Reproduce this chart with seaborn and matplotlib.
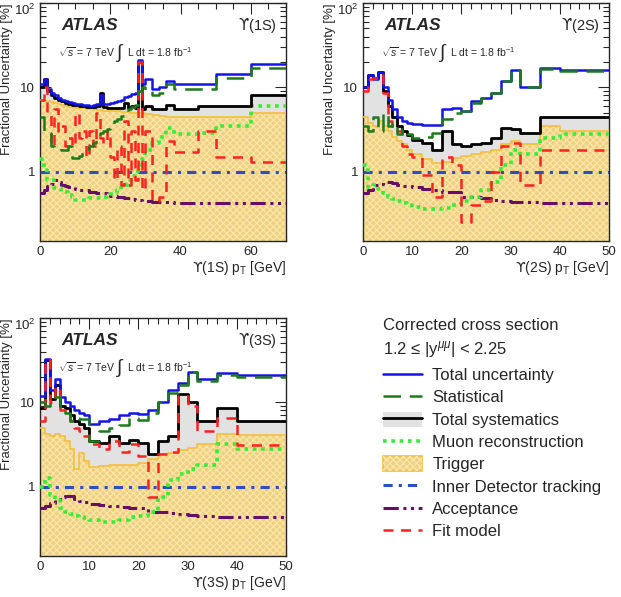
import matplotlib
matplotlib.use("Agg")
import matplotlib.pyplot as plt
import seaborn as sns
from matplotlib.patches import Patch
from matplotlib.lines import Line2D
from matplotlib.legend_handler import HandlerTuple
from matplotlib.ticker import FixedLocator, FixedFormatter, MultipleLocator, LogLocator, NullFormatter

sns.set_style("ticks")
plt.rcParams['font.family'] = ['Liberation Sans', 'DejaVu Sans']
plt.rcParams['mathtext.fontset'] = 'custom'
plt.rcParams['mathtext.rm'] = 'Liberation Sans'
plt.rcParams['mathtext.it'] = 'Liberation Sans:italic'
plt.rcParams['mathtext.sf'] = 'DejaVu Sans'
plt.rcParams['hatch.linewidth'] = 0.9

# ---- data (fractional uncertainties in %, one value per pT bin) ----
edges_1s = list(range(0, 31)) + [32, 34, 36, 38, 40, 45, 50, 60, 70]
edges_23s = [0, 1, 2, 3, 4, 5, 6, 7, 8, 9, 10, 12, 14, 16, 18, 20, 22, 24, 26, 28, 30, 32, 36, 40, 50]

total_1s = [11, 12.5, 9.5, 8.5, 8, 7.5, 7, 6.8, 6.6, 6.5,
            6.4, 6.3, 6.2, 6.1, 6.0, 6.1, 6.3, 8.0, 6.4, 6.4,
            6.5, 6.6, 6.8, 7.0, 7.6, 7.8, 8.3, 8.6, 21, 10.8,
            12.5, 9.5, 10, 12, 11, 11, 11, 14.5, 19]
stat_1s = [4.5, 2.9, 2.9, 2.0, 1.9, 1.9, 1.8, 1.8, 2.0, 1.45,
           1.45, 1.55, 1.7, 1.85, 2.0, 2.2, 2.5, 2.9, 3.0, 3.2,
           3.5, 4.0, 4.2, 4.6, 5.0, 5.5, 5.8, 6.2, 9.0, 10,
           9.0, 8.0, 8.5, 11, 9.5, 9.5, 9.5, 13, 17]
syst_1s = [10, 12.4, 9, 8, 7.5, 7, 6.8, 6.5, 6.3, 6.2,
           6.1, 6.0, 6.0, 5.9, 5.9, 5.9, 6.0, 8.5, 5.8, 5.7,
           5.7, 5.6, 5.6, 5.6, 6.5, 5.6, 6.0, 5.6, 20, 5.5,
           6.0, 5.5, 5.5, 6.2, 5.5, 5.5, 6.0, 6.0, 8.0]
muon_1s = [1.4, 1.05, 0.8, 0.8, 0.64, 0.64, 0.58, 0.58, 0.53, 0.5,
           0.46, 0.46, 0.46, 0.47, 0.48, 0.49, 0.48, 0.48, 0.5, 0.52,
           0.54, 0.56, 0.6, 0.65, 0.7, 0.8, 0.88, 0.95, 1.2, 1.4,
           1.8, 2.2, 2.6, 3.3, 2.8, 2.8, 2.9, 3.5, 6.0]
trig_1s = [7.0, 6.9, 6.8, 6.6, 6.5, 6.3, 6.1, 6.0, 5.9, 5.8,
           5.7, 5.7, 5.6, 5.6, 5.5, 5.5, 5.4, 5.4, 5.3, 5.3,
           5.2, 5.2, 5.2, 5.1, 5.1, 5.1, 5.0, 5.0, 4.9, 4.9,
           4.8, 4.7, 4.6, 4.5, 4.5, 4.5, 4.5, 4.5, 5.0]
idtrk_1s = [1.0] * 39
accept_1s = [0.56, 0.6, 0.68, 0.72, 0.8, 0.75, 0.7, 0.68, 0.66, 0.65,
             0.62, 0.6, 0.6, 0.6, 0.58, 0.57, 0.56, 0.55, 0.55, 0.54,
             0.52, 0.52, 0.5, 0.5, 0.48, 0.48, 0.47, 0.46, 0.46, 0.45,
             0.45, 0.44, 0.43, 0.43, 0.42, 0.42, 0.42, 0.42, 0.42]
fit_1s = [7, 10, 5, 2, 5.5, 3, 3.5, 2, 2.5, 2,
          5, 2.5, 3, 1.5, 3, 2, 5, 2.5, 2.2, 3,
          1.5, 0.8, 2, 0.7, 4, 0.7, 3, 0.8, 20, 0.6,
          3, 0.45, 0.5, 2.3, 1.7, 1.7, 3, 1.5, 1.3]

total_2s = [10, 14, 12.5, 15, 10, 7, 5.5, 4.5, 4.0, 3.8,
            3.7, 3.6, 3.6, 5.5, 5.7, 5.2, 6.8, 7.5, 8.5, 12,
            16, 10, 17, 16]
stat_2s = [3.5, 3.0, 4.5, 3.0, 5.0, 3.5, 3.8, 2.8, 3.2, 2.8,
           2.5, 2.6, 2.9, 4.2, 5.0, 5.2, 6.5, 7.5, 8.5, 12,
           16, 10, 16.5, 15.5]
syst_2s = [10, 14, 13, 15, 9, 6, 4.5, 3.5, 3.0, 2.7,
           2.4, 2.2, 1.8, 3.0, 2.1, 2.0, 2.1, 2.2, 2.5, 3.3,
           3.2, 2.9, 4.4, 4.5]
muon_2s = [1.2, 0.65, 0.7, 0.62, 0.55, 0.5, 0.47, 0.45, 0.42, 0.4,
           0.38, 0.36, 0.36, 0.37, 0.4, 0.45, 0.5, 0.6, 0.75, 1.2,
           1.8, 1.6, 2.5, 2.8]
trig_2s = [4.5, 3.8, 3.5, 4.0, 3.5, 3.0, 2.6, 2.3, 2.1, 1.8,
           1.6, 1.4, 1.25, 1.3, 1.45, 1.55, 1.6, 1.7, 1.8, 2.1,
           2.3, 2.1, 3.5, 3.0]
idtrk_2s = [1.0] * 24
accept_2s = [0.55, 0.6, 0.7, 0.72, 0.75, 0.75, 0.73, 0.7, 0.68, 0.68,
             0.65, 0.62, 0.6, 0.58, 0.57, 0.5, 0.5, 0.48, 0.46, 0.45,
             0.44, 0.43, 0.42, 0.42]
fit_2s = [9, 12.5, 13, 14, 8.5, 4, 3.5, 3, 2.0, 1.6,
          1.5, 0.9, 0.5, 1.5, 1.2, 0.25, 0.4, 0.45, 1.0, 2.0,
          2.2, 0.7, 1.8, 1.8]

total_3s = [12, 33, 14, 19, 11.5, 10, 9, 8, 7.5, 7,
            5.5, 6, 6.3, 7, 7.5, 7.2, 8, 10, 14, 17,
            23, 19, 22, 21]
stat_3s = [10, 9, 11, 11.5, 8.5, 7.5, 6, 6.5, 6.3, 6.3,
           3.5, 4.5, 5.0, 5.3, 6.5, 6.2, 7.5, 10, 13, 16,
           23, 18, 21, 20]
syst_3s = [8.5, 32, 11, 16, 9, 8.5, 7, 6, 5.5, 5,
           3.5, 3.3, 4.0, 3.3, 3.6, 3.3, 2.4, 3.5, 4.0, 12.5,
           10, 6, 8.5, 6]
muon_3s = [1.0, 1.25, 0.8, 0.7, 0.55, 0.5, 0.47, 0.45, 0.43, 0.42,
           0.4, 0.38, 0.38, 0.4, 0.43, 0.45, 0.5, 0.75, 1.2, 1.4,
           1.6, 1.8, 3.2, 2.8]
trig_3s = [5.0, 4.2, 4.0, 4.2, 4.0, 3.5, 2.8, 1.6, 2.5, 2.0,
           1.7, 1.75, 1.8, 1.8, 1.8, 1.9, 2.1, 2.4, 2.5, 2.7,
           2.9, 3.2, 4.2, 4.1]
idtrk_3s = [1.0] * 24
accept_3s = [0.55, 0.58, 0.63, 0.7, 0.75, 0.78, 0.77, 0.72, 0.68, 0.66,
             0.62, 0.6, 0.58, 0.57, 0.56, 0.55, 0.5, 0.5, 0.48, 0.47,
             0.46, 0.45, 0.44, 0.43]
fit_3s = [6, 32, 10, 15, 8, 7, 6, 5, 4.5, 4.0,
          3.2, 2.8, 3.5, 2.6, 3.2, 2.3, 0.75, 2.4, 2.6, 12,
          9, 4.5, 6.5, 3.1]

# ---- styles ----
c_total = '#1414e6'
c_stat = '#1c7a1c'
c_muon = '#33ee33'
c_idtrk = '#2a4fc0'
c_acc = '#660f66'
c_fit = '#ff2020'
c_trig = '#f1d07c'
c_trig_edge = '#f3c03a'
c_trig_hatch = '#f8e6ae'
c_gray = '#e2e2e2'

ls_stat = (0, (7, 3.5))
ls_muon = (0, (1, 1.3))
ls_idtrk = (0, (3, 2, 1, 2))
ls_acc = (0, (5, 1.5, 1, 1.5, 1, 1.5))
ls_fit = (0, (4, 3))

UPS = r'$\mathsf{ϒ}$'


def stairs(ax, edges, vals, **kw):
    yy = list(vals) + [vals[-1]]
    sns.lineplot(x=edges, y=yy, drawstyle='steps-post', estimator=None,
                 sort=False, legend=False, ax=ax, **kw)


def panel(ax, edges, total, stat, syst, muon, trig, idtrk, accept, fit,
          state, xmax, xmajor, xminor):
    syst_y = list(syst) + [syst[-1]]
    trig_y = list(trig) + [trig[-1]]
    ax.fill_between(edges, syst_y, 0.01, step='post', color=c_gray, lw=0, zorder=1)
    ax.fill_between(edges, trig_y, 0.01, step='post', facecolor=c_trig, lw=0, zorder=2)
    ax.fill_between(edges, trig_y, 0.01, step='post', facecolor='none',
                    edgecolor=c_trig_hatch, hatch='xxxxx', lw=0, zorder=2)
    stairs(ax, edges, trig, color=c_trig_edge, lw=1.2, zorder=3)
    stairs(ax, edges, accept, color=c_acc, lw=2.2, ls=ls_acc, zorder=4)
    stairs(ax, edges, idtrk, color=c_idtrk, lw=2.2, ls=ls_idtrk, zorder=4)
    stairs(ax, edges, muon, color=c_muon, lw=2.6, ls=ls_muon, zorder=4)
    stairs(ax, edges, fit, color=c_fit, lw=1.8, ls=ls_fit, zorder=5)
    stairs(ax, edges, syst, color='black', lw=2.0, zorder=4)
    stairs(ax, edges, total, color=c_total, lw=1.8, zorder=4)
    stairs(ax, edges, stat, color=c_stat, lw=1.8, ls=ls_stat, zorder=5)

    ax.set_yscale('log')
    ax.set_ylim(0.15, 100)
    ax.set_xlim(0, xmax)
    ax.yaxis.set_major_locator(FixedLocator([1, 10, 100]))
    ax.yaxis.set_major_formatter(FixedFormatter(['1', '10', '$10^2$']))
    ax.yaxis.set_minor_locator(LogLocator(base=10, subs=range(2, 10)))
    ax.yaxis.set_minor_formatter(NullFormatter())
    ax.xaxis.set_major_locator(MultipleLocator(xmajor))
    ax.xaxis.set_minor_locator(MultipleLocator(xminor))
    ax.tick_params(which='both', direction='in', top=True, right=True,
                   labelsize=9.5, width=0.8, pad=3.5)
    ax.tick_params(which='major', length=8)
    ax.tick_params(which='minor', length=4)
    for sp in ax.spines.values():
        sp.set_linewidth(1.0)
    ax.set_ylabel('Fractional Uncertainty [%]', fontsize=9.5, loc='top')
    ax.yaxis.set_label_coords(-0.108, 1.0)
    ax.set_xlabel(UPS + '(%s) p$_\\mathregular{T}$ [GeV]' % state, fontsize=10,
                  loc='right', labelpad=1)
    ax.text(0.085, 0.905, 'ATLAS', transform=ax.transAxes, fontsize=12.5,
            fontweight='bold', fontstyle='italic', va='center')
    ax.text(0.965, 0.905, UPS + '(%s)' % state, transform=ax.transAxes, fontsize=10.5,
            ha='right', va='center')
    ax.text(0.075, 0.795, '$\\sqrt{s}$ = 7 TeV', transform=ax.transAxes,
            fontsize=7.5, va='center')
    ax.text(0.31, 0.79, '$\\int$', transform=ax.transAxes, fontsize=14, va='center')
    ax.text(0.355, 0.795, 'L dt = 1.8 fb$^{-1}$', transform=ax.transAxes,
            fontsize=7.5, va='center')


fig = plt.figure(figsize=(6.21, 5.97), dpi=100)
ax1 = fig.add_axes([0.0644, 0.5963, 0.3961, 0.3987])
ax2 = fig.add_axes([0.5845, 0.5963, 0.3961, 0.3987])
ax3 = fig.add_axes([0.0644, 0.0687, 0.3961, 0.3987])

panel(ax1, edges_1s, total_1s, stat_1s, syst_1s, muon_1s, trig_1s, idtrk_1s,
      accept_1s, fit_1s, '1S', 70, 20, 5)
panel(ax2, edges_23s, total_2s, stat_2s, syst_2s, muon_2s, trig_2s, idtrk_2s,
      accept_2s, fit_2s, '2S', 50, 10, 2)
panel(ax3, edges_23s, total_3s, stat_3s, syst_3s, muon_3s, trig_3s, idtrk_3s,
      accept_3s, fit_3s, '3S', 50, 10, 2)

fig.canvas.draw()
for ax in (ax1, ax2, ax3):
    ax.get_yticklabels()[-1].set_va('top')

# ---- legend ----
fig.text(383 / 621, 1 - 326 / 597, 'Corrected cross section', fontsize=12, va='center')
fig.text(383 / 621, 1 - 350 / 597, '1.2 ≤ |y$^{\\mu\\mu}$| < 2.25', fontsize=12, va='center')

handles = [
    Line2D([], [], color=c_total, lw=1.8),
    Line2D([], [], color=c_stat, lw=1.8, ls=ls_stat),
    (Patch(facecolor=c_gray, edgecolor='none'), Line2D([], [], color='black', lw=2.0)),
    Line2D([], [], color=c_muon, lw=2.6, ls=ls_muon),
    (Patch(facecolor=c_trig, edgecolor=c_trig_edge, lw=1.2),
     Patch(facecolor='none', edgecolor=c_trig_hatch, hatch='xxxxx', lw=0)),
    Line2D([], [], color=c_idtrk, lw=2.2, ls=ls_idtrk),
    Line2D([], [], color=c_acc, lw=2.2, ls=ls_acc),
    Line2D([], [], color=c_fit, lw=1.8, ls=ls_fit),
]
labels = ['Total uncertainty', 'Statistical', 'Total systematics',
          'Muon reconstruction', 'Trigger', 'Inner Detector tracking',
          'Acceptance', 'Fit model']
fig.legend(handles, labels, loc='upper left', bbox_to_anchor=(383 / 621, 1 - 367 / 597),
           frameon=False, fontsize=12, labelspacing=0.37, handlelength=2.35,
           handleheight=1.0, handletextpad=0.6, borderaxespad=0, borderpad=0,
           handler_map={tuple: HandlerTuple(ndivide=1, pad=0)})

fig.savefig('out.png', dpi=100)
